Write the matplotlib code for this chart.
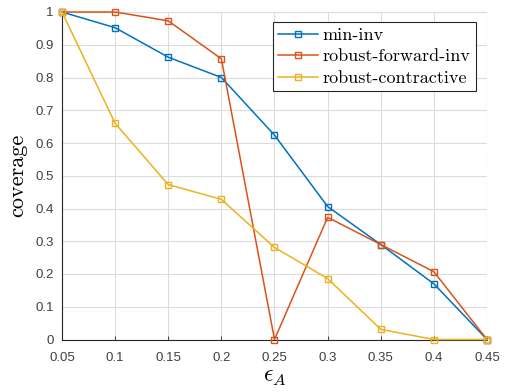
import matplotlib
matplotlib.use("Agg")
import matplotlib.pyplot as plt

eps = [0.05, 0.10, 0.15, 0.20, 0.25, 0.30, 0.35, 0.40, 0.45]
min_inv = [1.0, 0.952, 0.862, 0.800, 0.624, 0.406, 0.290, 0.170, 0.0]
robust_fwd = [1.0, 1.0, 0.973, 0.857, 0.0, 0.373, 0.290, 0.207, 0.0]
robust_con = [1.0, 0.660, 0.473, 0.428, 0.281, 0.186, 0.031, 0.0, 0.0]
series_names = ["min-inv", "robust-forward-inv", "robust-contractive"]
colors = ["#0072BD", "#D95319", "#EDB120"]
xticks = [0.05, 0.1, 0.15, 0.2, 0.25, 0.3, 0.35, 0.4, 0.45]
xticklabels = ["0.05", "0.1", "0.15", "0.2", "0.25", "0.3", "0.35", "0.4", "0.45"]
yticks = [0, 0.1, 0.2, 0.3, 0.4, 0.5, 0.6, 0.7, 0.8, 0.9, 1.0]
yticklabels = ["0", "0.1", "0.2", "0.3", "0.4", "0.5", "0.6", "0.7", "0.8", "0.9", "1"]

plt.rcParams["mathtext.fontset"] = "cm"

fig = plt.figure(figsize=(5.06, 3.92), dpi=100)
ax = fig.add_axes([62/506, 1-339.5/392, (487-62)/506, (339.5-12)/392])

for ys, name, c in zip([min_inv, robust_fwd, robust_con], series_names, colors):
    ax.plot(eps, ys, color=c, lw=1.1, marker="s", ms=5, mfc="none",
            mec=c, mew=1.0, label=name, clip_on=False, zorder=3)

ax.set_xlim(0.05, 0.45)
ax.set_ylim(0, 1)
ax.set_xticks(xticks)
ax.set_xticklabels(xticklabels)
ax.set_yticks(yticks)
ax.set_yticklabels(yticklabels)
for lab in ax.get_xticklabels() + ax.get_yticklabels():
    lab.set_family("Liberation Sans")
    lab.set_fontsize(9.5)
    lab.set_color("#404040")
ax.tick_params(axis="x", direction="in", length=3, width=0.6, color="#262626", pad=9)
ax.tick_params(axis="y", length=0, pad=6)
ax.grid(True, color="#dcdcdc", lw=0.8)
ax.set_axisbelow(True)
for s in ["top", "right"]:
    ax.spines[s].set_visible(False)
for s in ["left", "bottom"]:
    ax.spines[s].set_color("#262626")
    ax.spines[s].set_linewidth(0.8)
ax.axhline(1.0, color="#dcdcdc", lw=0.8, zorder=0)
ax.axvline(0.45, color="#dcdcdc", lw=0.8, zorder=0)

ax.set_ylabel("coverage", family="cmr10", fontsize=16, labelpad=6)
ax.set_xlabel(r"$\epsilon_A$", fontsize=17, labelpad=0)

leg = ax.legend(loc="upper right", bbox_to_anchor=(476/506, 1-22/392),
                bbox_transform=fig.transFigure, prop={"family": "cmr10", "size": 13},
                fancybox=False, framealpha=1, edgecolor="#262626",
                handlelength=2.2, handletextpad=0.25, borderpad=0.3,
                labelspacing=0.32, borderaxespad=0, markerscale=0.8)
leg.get_frame().set_linewidth(0.8)

fig.savefig("out.png", dpi=100)
